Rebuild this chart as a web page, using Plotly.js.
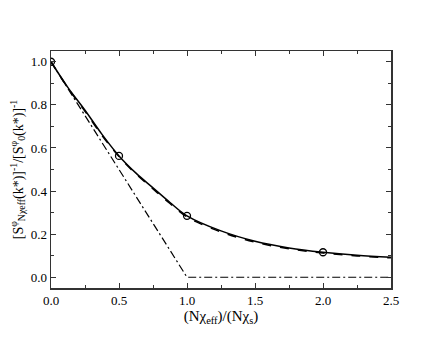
<!DOCTYPE html>
<html>
<head>
<meta charset="utf-8">
<script src="https://cdn.plot.ly/plotly-3.0.1.min.js"></script>
<style>
  html, body { margin: 0; padding: 0; background: #fff; }
  #chart { width: 440px; height: 340px; }
</style>
</head>
<body>
<div id="chart"></div>
<script>
// values
const xCurve = [0, 0.125, 0.25, 0.375, 0.5, 0.625, 0.75, 0.875, 1.0, 1.25, 1.5, 1.75, 2.0, 2.25, 2.5];
const ySolid = [1.0, 0.88, 0.775, 0.663, 0.563, 0.483, 0.415, 0.347, 0.285, 0.215, 0.167, 0.136, 0.116, 0.102, 0.093];
const yDashed = [1.0, 0.878, 0.77, 0.658, 0.56, 0.479, 0.41, 0.342, 0.28, 0.21, 0.163, 0.132, 0.112, 0.099, 0.09];

const xLinear = [0, 1.0, 2.5];
const yLinear = [1.0, 0.0, 0.0];

const xCircles = [0, 0.5, 1.0, 2.0];
const yCircles = [1.0, 0.563, 0.285, 0.116];

const serif = "Times New Roman, Liberation Serif, DejaVu Serif, serif";

const data = [
  {
    x: xLinear, y: yLinear, type: "scatter", mode: "lines",
    line: { color: "#000", width: 1.2, dash: "8px,3px,2px,3px" },
    hoverinfo: "skip",
  },
  {
    x: xCurve, y: yDashed, type: "scatter", mode: "lines",
    line: { color: "#000", width: 1.5, dash: "dash", shape: "spline" },
    hoverinfo: "skip",
  },
  {
    x: xCurve, y: ySolid, type: "scatter", mode: "lines",
    line: { color: "#000", width: 1.5, shape: "spline" },
    hoverinfo: "skip",
  },
  {
    x: xCircles, y: yCircles, type: "scatter", mode: "markers",
    marker: { symbol: "circle-open", size: 7, color: "#000", line: { width: 1.3, color: "#000" } },
    hoverinfo: "skip",
  },
];

const axisCommon = {
  showgrid: false,
  zeroline: false,
  showline: true,
  mirror: "allticks",
  linecolor: "#333",
  linewidth: 1.5,
  ticks: "inside",
  ticklen: 5,
  tickwidth: 1,
  tickcolor: "#333",
  tickfont: { family: serif, size: 13, color: "#000" },
};

const layout = {
  width: 440,
  height: 340,
  margin: { l: 51, r: 49, t: 51, b: 52 },
  paper_bgcolor: "#fff",
  plot_bgcolor: "#fff",
  showlegend: false,
  font: { family: serif, size: 13, color: "#000" },
  xaxis: Object.assign({}, axisCommon, {
    range: [0, 2.5],
    tickvals: [0, 0.5, 1.0, 1.5, 2.0, 2.5],
    ticktext: ["0.0", "0.5", "1.0", "1.5", "2.0", "2.5"],
    minor: { dtick: 0.25, ticks: "inside", ticklen: 3, tickcolor: "#333" },
    title: {
      text: "(Nχ<sub>eff</sub>)/(Nχ<sub>s</sub>)",
      font: { family: serif, size: 15, color: "#000" },
      standoff: 0,
    },
  }),
  yaxis: Object.assign({}, axisCommon, {
    range: [-0.05, 1.05],
    tickvals: [0, 0.2, 0.4, 0.6, 0.8, 1.0],
    ticktext: ["0.0", "0.2", "0.4", "0.6", "0.8", "1.0"],
    minor: { dtick: 0.1, ticks: "inside", ticklen: 3, tickcolor: "#333" },
    title: {
      text: "[S<sup>φ</sup><sub>Nχeff</sub>(k*)]<sup>-1</sup>/[S<sup>φ</sup><sub>0</sub>(k*)]<sup>-1</sup>",
      font: { family: serif, size: 14, color: "#000" },
      standoff: 4,
    },
  }),
};

Plotly.newPlot("chart", data, layout, { displayModeBar: false, staticPlot: true });
</script>
</body>
</html>
